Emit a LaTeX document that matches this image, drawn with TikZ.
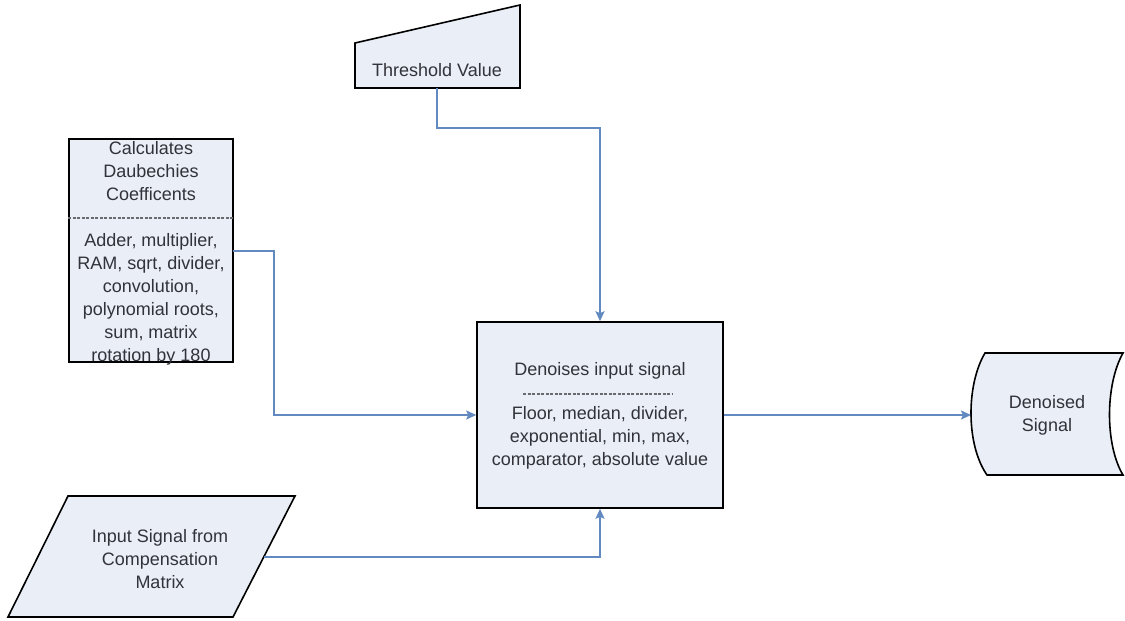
\documentclass[tikz,border=0pt]{standalone}
\usepackage{fontspec}
\setmainfont{Liberation Sans}
\usetikzlibrary{arrows.meta}
\definecolor{boxfill}{RGB}{233,238,247}
\definecolor{flowline}{RGB}{98,137,192}
\definecolor{labeltext}{RGB}{50,50,58}
\definecolor{sepline}{RGB}{105,105,112}

\begin{document}
\begin{tikzpicture}[x=1pt,y=-1pt,
  shapeline/.style={draw=black, line width=1.6pt, fill=boxfill},
  label/.style={text=labeltext, font=\fontsize{18}{23}\selectfont, align=center, inner sep=0pt},
  flow/.style={draw=flowline, line width=1.8pt, -{Stealth[length=10pt,width=9pt,inset=2pt]}},
  separator/.style={draw=sepline, line width=1.1pt, dash pattern=on 3pt off 1.5pt}]

\useasboundingbox[fill=white] (0,0) rectangle (1125,621);

% manual input: threshold value
\draw[shapeline] (355,43) -- (520,5) -- (520,88) -- (355,88) -- cycle;
\node[label] (thr) at (437,70) {Threshold Value};
\coordinate (throut) at (437,88);

% coefficient computation block
\node[shapeline, minimum width=164pt, minimum height=223pt, inner sep=0pt] (calc) at (151,250.5) {};
\node[label] (calchead) at (151,171) {Calculates\\Daubechies\\Coefficents};
\draw[separator] (calc.west |- 0,218) -- (calc.east |- 0,218);
\node[label] (calcbody) at (151,299.5) {Adder, multiplier,\\RAM, sqrt, divider,\\convolution,\\polynomial roots,\\sum, matrix\\rotation by 180};
\coordinate (calcout) at (233,251);

% denoising block
\node[shapeline, minimum width=246pt, minimum height=186pt, inner sep=0pt] (main) at (600,415) {};
\node[label] (mainhead) at (600,371) {Denoises input signal};
\draw[separator] (523,394) -- (673,394);
\node[label] (mainbody) at (600,438) {Floor, median, divider,\\exponential, min, max,\\comparator, absolute value};

% stored output
\draw[shapeline] (985,353) -- (1123,353) .. controls (1105,385) and (1105,445) .. (1123,475)
  -- (987,475) .. controls (966,445) and (966,385) .. (985,353) -- cycle;
\node[label] (den) at (1047,415) {Denoised\\Signal};
\coordinate (denin) at (971,415);

% input data
\draw[shapeline] (68,496) -- (295,496) -- (233,617) -- (8,617) -- cycle;
\node[label] (inp) at (160,559) {Input Signal from\\Compensation\\Matrix};
\coordinate (inpout) at (264,557);

% connectors
\draw[flow] (throut) -- ++(0,40) -| (main.north);
\draw[flow] (calcout) -- ++(41,0) |- (main.west);
\draw[flow] (inpout) -| (main.south);
\draw[flow] (main.east) -- (denin);

\end{tikzpicture}
\end{document}
